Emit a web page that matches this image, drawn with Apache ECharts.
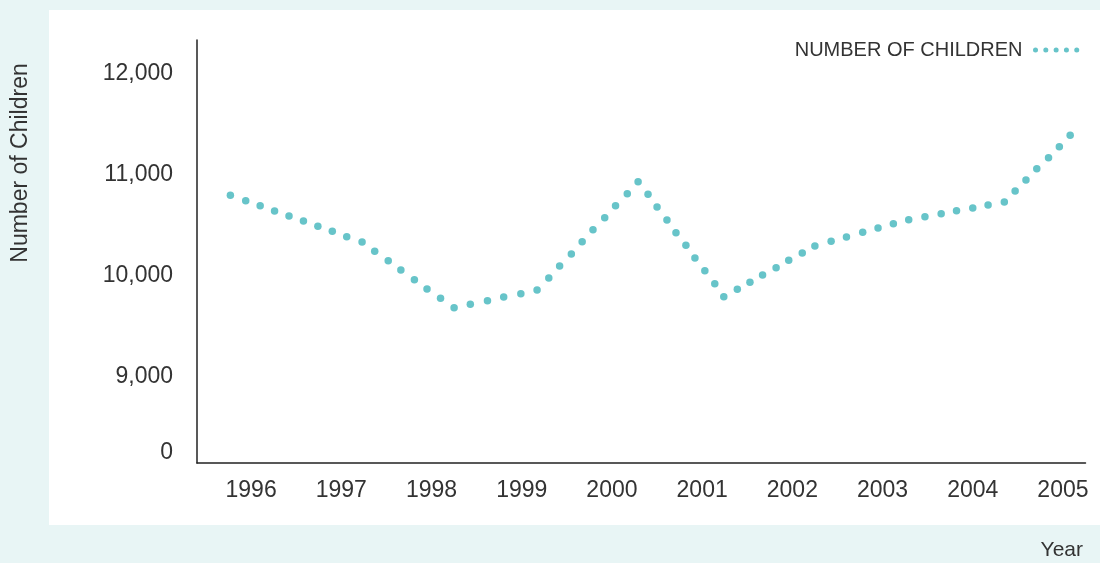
<!DOCTYPE html>
<html>
<head>
<meta charset="utf-8">
<title>Number of Children</title>
<script src="https://cdn.jsdelivr.net/npm/echarts@6/dist/echarts.min.js"></script>
<style>
  html, body { margin: 0; padding: 0; background: #e8f5f5; }
  #chart { width: 1100px; height: 563px; }
</style>
</head>
<body>
<div id="chart"></div>
<script>
// every dot of the dotted line (decimal year, children)
const years = [
  1995.77, 1995.94, 1996.10, 1996.26, 1996.42, 1996.58, 1996.74, 1996.90, 1997.06, 1997.23,
  1997.37, 1997.52, 1997.66, 1997.81, 1997.95, 1998.10, 1998.25, 1998.43, 1998.62, 1998.80,
  1998.99, 1999.17, 1999.30, 1999.42, 1999.55, 1999.67, 1999.79, 1999.92, 2000.04, 2000.17,
  2000.29, 2000.40, 2000.50, 2000.61, 2000.71, 2000.82, 2000.92, 2001.03, 2001.14, 2001.24,
  2001.39, 2001.53, 2001.67, 2001.82, 2001.96, 2002.11, 2002.25, 2002.43, 2002.60, 2002.78,
  2002.95, 2003.12, 2003.29, 2003.47, 2003.65, 2003.82, 2004.00, 2004.17, 2004.35, 2004.47,
  2004.59, 2004.71, 2004.84, 2004.96, 2005.08
];
const children = [
  10795, 10742, 10692, 10640, 10591, 10541, 10489, 10439, 10386, 10334,
  10242, 10149, 10057, 9961, 9869, 9777, 9685, 9718, 9754, 9790,
  9823, 9859, 9978, 10097, 10215, 10337, 10455, 10574, 10692, 10811,
  10930, 10805, 10680, 10551, 10426, 10301, 10176, 10050, 9922, 9793,
  9866, 9937, 10008, 10080, 10153, 10225, 10294, 10341, 10383, 10430,
  10472, 10515, 10554, 10584, 10613, 10643, 10670, 10699, 10729, 10838,
  10946, 11058, 11167, 11275, 11388
];
const yearLabels = [1996, 1997, 1998, 1999, 2000, 2001, 2002, 2003, 2004, 2005];
const countLabels = [9000, 10000, 11000, 12000];
// the axis is broken below 9,000; its "0" sits at this value
const zeroSpot = 8250;

const seriesName = 'NUMBER OF CHILDREN';
const teal = '#67c4c9';
const ink = '#333';
const fontFamily = '"Liberation Sans", Arial, Helvetica, sans-serif';

const chart = echarts.init(document.getElementById('chart'));

const points = years.map((y, i) => [y, children[i]]);

chart.setOption({
  animation: false,
  backgroundColor: '#e8f5f5',
  textStyle: { fontFamily: fontFamily },
  graphic: [
    {
      type: 'rect',
      z: -10,
      shape: { x: 49, y: 10, width: 1051, height: 515 },
      style: { fill: '#fff' },
      silent: true
    },
    {
      type: 'text',
      x: 21,
      y: 163,
      rotation: Math.PI / 2,
      style: {
        text: 'Number of Children',
        fontSize: 23,
        fontFamily: fontFamily,
        fill: ink,
        align: 'center',
        verticalAlign: 'middle'
      }
    },
    {
      type: 'text',
      x: 1083,
      y: 550,
      style: {
        text: 'Year',
        fontSize: 21,
        fontFamily: fontFamily,
        fill: ink,
        align: 'right',
        verticalAlign: 'middle'
      }
    }
  ],
  legend: {
    data: [seriesName],
    right: 20,
    top: 40,
    padding: 0,
    align: 'right',
    itemWidth: 42,
    itemHeight: 14,
    itemStyle: { opacity: 0 },
    lineStyle: { color: teal, opacity: 1, width: 5, type: [0.01, 10.3], cap: 'round' },
    textStyle: { fontSize: 20, color: ink, fontFamily: fontFamily, padding: [0, 8, 0, 0] }
  },
  grid: {
    left: 197,
    right: 14.5,
    top: 40,
    bottom: 100,
    containLabel: false
  },
  xAxis: {
    type: 'value',
    min: 1995.4,
    max: 2005.25,
    interval: 0.2,
    axisLine: { show: true, onZero: false, lineStyle: { color: '#222', width: 1.5 } },
    axisTick: { show: false },
    splitLine: { show: false },
    axisLabel: {
      margin: 16,
      fontSize: 23,
      color: ink,
      formatter: v => {
        const r = Math.round(v);
        return Math.abs(v - r) < 1e-6 && yearLabels.includes(r) ? String(r) : '';
      }
    }
  },
  yAxis: {
    type: 'value',
    min: 8150,
    max: 12330,
    interval: 50,
    axisLine: { show: true, lineStyle: { color: '#222', width: 1.5 } },
    axisTick: { show: false },
    splitLine: { show: false },
    axisLabel: {
      margin: 24,
      fontSize: 23,
      color: ink,
      formatter: v => {
        const r = Math.round(v);
        if (r === zeroSpot) return '0';
        return countLabels.includes(r) ? r.toLocaleString('en-US') : '';
      }
    }
  },
  series: [
    {
      name: seriesName,
      type: 'line',
      data: points,
      symbol: 'circle',
      symbolSize: 7.5,
      showSymbol: true,
      showAllSymbol: true,
      silent: true,
      itemStyle: { color: teal },
      lineStyle: { color: teal, width: 0, opacity: 0 }
    }
  ]
});
</script>
</body>
</html>
